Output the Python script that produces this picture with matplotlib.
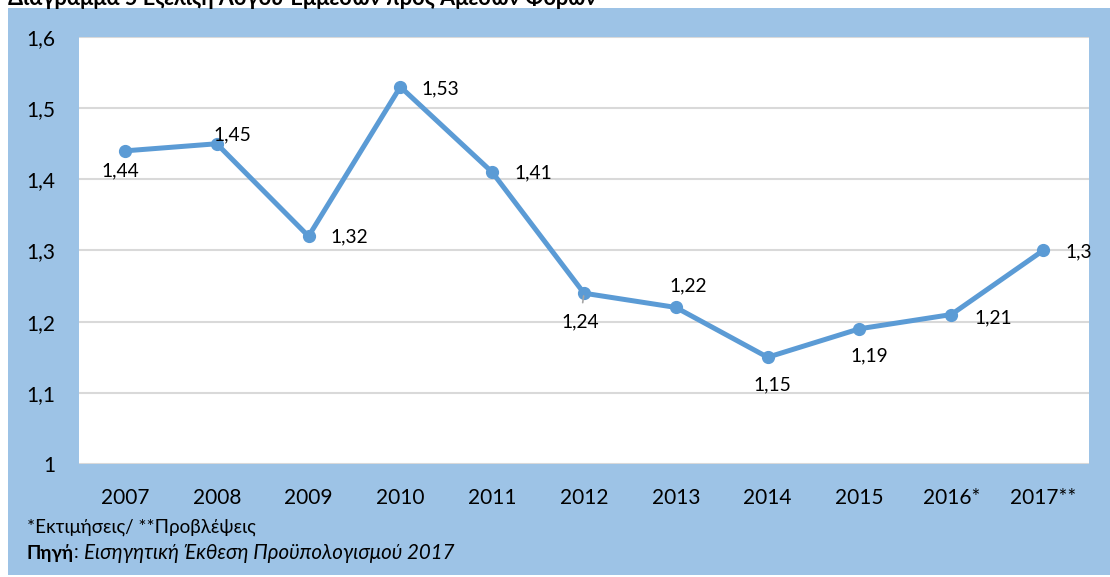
import matplotlib
matplotlib.use("Agg")
import matplotlib.pyplot as plt
from matplotlib.patches import Rectangle

plt.rcParams['font.family'] = ['Lato', 'Noto Sans', 'DejaVu Sans']

years = ['2007', '2008', '2009', '2010', '2011', '2012', '2013', '2014', '2015', '2016*', '2017**']
values = [1.44, 1.45, 1.32, 1.53, 1.41, 1.24, 1.22, 1.15, 1.19, 1.21, 1.30]
value_labels = ['1,44', '1,45', '1,32', '1,53', '1,41', '1,24', '1,22', '1,15', '1,19', '1,21', '1,3']
# label offsets in pixels (dx, dy)
label_offsets = [(-5, -20), (16, 9), (41, -1), (40, -2), (41, -1), (-4, -29),
                 (12, 22), (5, -28), (10, -27), (42, -3), (36, -1)]
yticks = [1.0, 1.1, 1.2, 1.3, 1.4, 1.5, 1.6]
ytick_labels = ['1', '1,1', '1,2', '1,3', '1,4', '1,5', '1,6']

W, H = 1110, 577
fig = plt.figure(figsize=(W / 100, H / 100), dpi=100)
fig.patch.set_facecolor('white')
fig.patches.append(Rectangle((8 / W, (H - 575) / H), (W - 8) / W, (575 - 8) / H,
                             transform=fig.transFigure, facecolor='#9DC3E6',
                             edgecolor='none', zorder=-10))

left, right, top, bottom = 79, 1089, 37, 464
ax = fig.add_axes([left / W, (H - bottom) / H, (right - left) / W, (bottom - top) / H])
ax.set_zorder(1)
ax.set_facecolor('white')

x = list(range(len(years)))
ax.plot(x, values, color='#5B9BD5', linewidth=3.6, marker='o', markersize=8.5,
        zorder=3, solid_capstyle='round')

for i, (v, lab, (dx, dy)) in enumerate(zip(values, value_labels, label_offsets)):
    kw = {}
    if i == 5:
        kw['arrowprops'] = dict(arrowstyle='-', color='#A6A6A6', lw=1.2,
                                shrinkA=6, shrinkB=2)
    ax.annotate(lab, (i, v), xytext=(dx * 0.72, dy * 0.72), textcoords='offset points',
                ha='center', va='center', fontsize=13.8, color='black',
                annotation_clip=False, zorder=4, **kw)

ax.set_xlim(-0.5, len(years) - 0.5)
ax.set_ylim(1.0, 1.6)
ax.set_yticks(yticks)
ax.set_yticklabels(ytick_labels)
ax.set_xticks(x)
ax.set_xticklabels(years)
ax.tick_params(axis='both', length=0, labelsize=15, colors='black')
ax.tick_params(axis='y', pad=17)
ax.tick_params(axis='x', pad=17)
ax.grid(axis='y', color='#D9D9D9', linewidth=1.5, zorder=1)
ax.set_axisbelow(True)
for s in ax.spines.values():
    s.set_visible(False)

fig.text(8 / W, 1 - 5 / H, 'Διάγραμμα 5 Εξέλιξη Λόγου Έμμεσων προς Άμεσων Φόρων',
         fontsize=15.6, fontweight='bold', ha='left', va='baseline')
fs = 13.5
fig.text(27 / W, 1 - 527 / H, '*Εκτιμήσεις/ **Προβλέψεις', fontsize=fs,
         ha='left', va='center')
t1 = fig.text(27 / W, 1 - 553 / H, 'Πηγή', fontsize=fs, fontweight='bold',
              ha='left', va='center')
fig.canvas.draw()
bb = t1.get_window_extent()
t2 = fig.text(bb.x1 / W, 1 - 553 / H, ': ', fontsize=fs, ha='left', va='center')
fig.canvas.draw()
bb2 = t2.get_window_extent()
fig.text(bb2.x1 / W, 1 - 553 / H, 'Εισηγητική Έκθεση Προϋπολογισμού 2017',
         fontsize=14.8, style='italic', ha='left', va='center')

fig.savefig('out.png', dpi=100)
